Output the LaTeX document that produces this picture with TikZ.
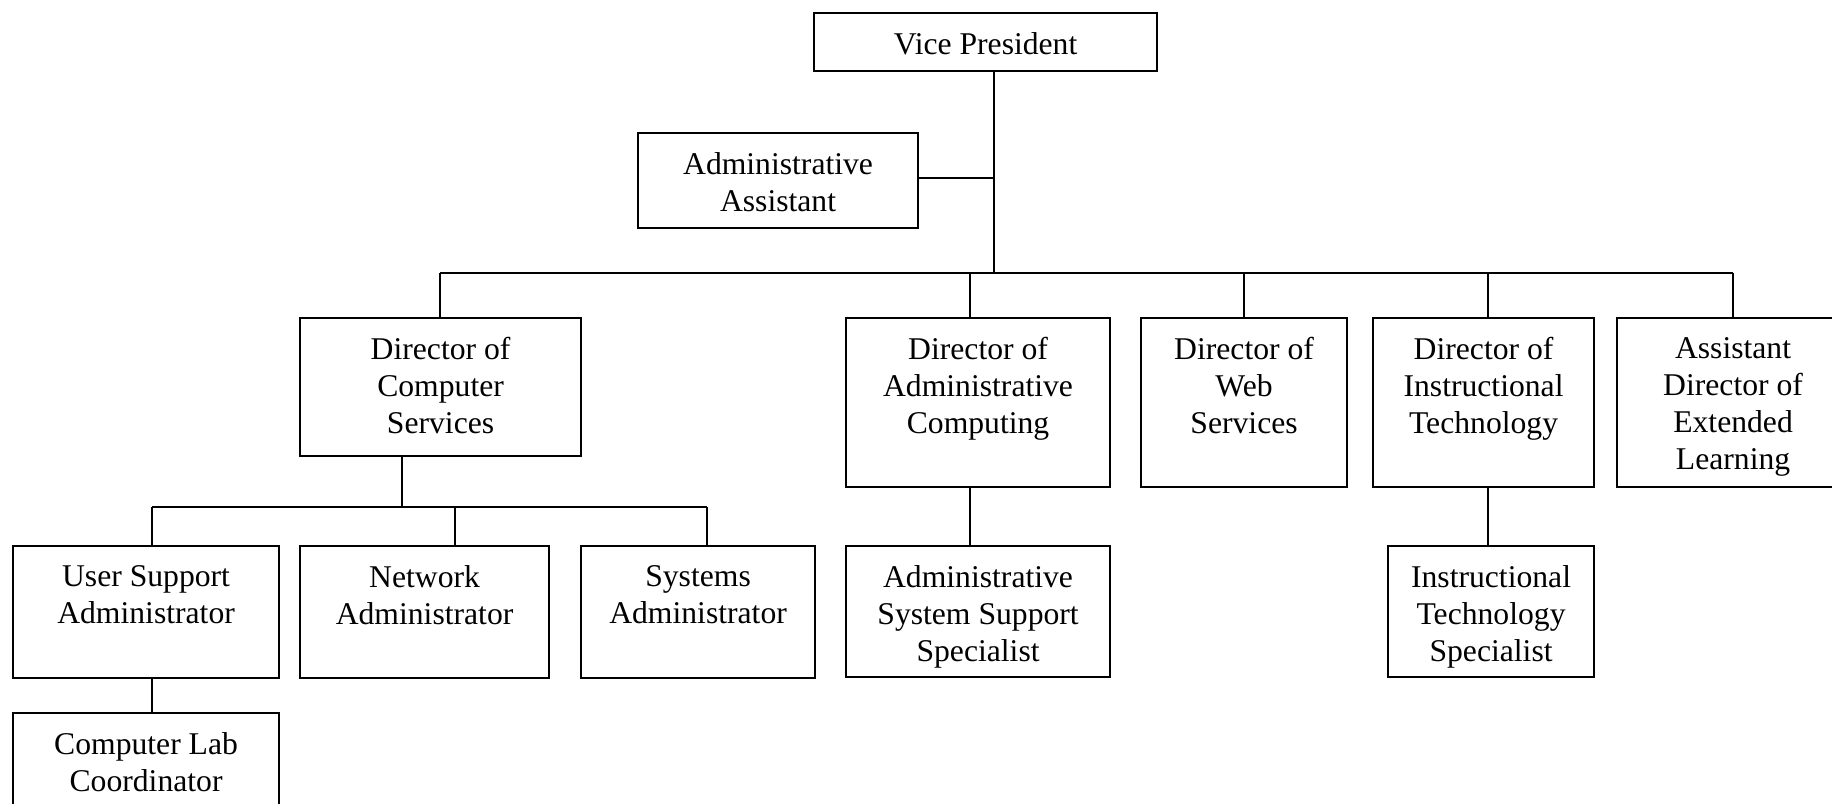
\documentclass[tikz,border=0pt]{standalone}
\usepackage{fontspec}
\setmainfont{Liberation Serif}
\begin{document}
\begin{tikzpicture}[x=0.01cm,y=-0.01cm,
  every node/.style={draw,line width=0.6pt,anchor=north west,inner sep=0pt,outer sep=0pt},
  lbl/.style={draw=none,anchor=north,yshift=-5.5pt,align=center,font=\fontsize{9pt}{10.5pt}\selectfont}]

  \clip (0,0) rectangle (1832,804);

  % Specification of nodes (position, size, text)
  \node[minimum width=3.43cm,minimum height=0.58cm,label={[lbl]north:Vice President}] (vp) at (814,13) {};
  \node[minimum width=2.80cm,minimum height=0.95cm,label={[lbl]north:{Administrative\\Assistant}}] (aa) at (638,133) {};

  \node[minimum width=2.81cm,minimum height=1.38cm,label={[lbl]north:{Director of\\Computer\\Services}}] (dcs) at (300,318) {};
  \node[minimum width=2.64cm,minimum height=1.69cm,label={[lbl]north:{Director of\\Administrative\\Computing}}] (dac) at (846,318) {};
  \node[minimum width=2.06cm,minimum height=1.69cm,label={[lbl]north:{Director of\\Web\\Services}}] (dws) at (1141,318) {};
  \node[minimum width=2.21cm,minimum height=1.69cm,label={[lbl]north:{Director of\\Instructional\\Technology}}] (dit) at (1373,318) {};
  \node[minimum width=2.32cm,minimum height=1.69cm,label={[lbl]north:{Assistant\\Director of\\Extended\\Learning}}] (adel) at (1617,318) {};

  \node[minimum width=2.66cm,minimum height=1.32cm,label={[lbl]north:{User Support\\Administrator}}] (usa) at (13,546) {};
  \node[minimum width=2.49cm,minimum height=1.32cm,label={[lbl]north:{Network\\Administrator}}] (na) at (300,546) {};
  \node[minimum width=2.34cm,minimum height=1.32cm,label={[lbl]north:{Systems\\Administrator}}] (sa) at (581,546) {};
  \node[minimum width=2.64cm,minimum height=1.31cm,label={[lbl]north:{Administrative\\System Support\\Specialist}}] (ass) at (846,546) {};
  \node[minimum width=2.06cm,minimum height=1.31cm,label={[lbl]north:{Instructional\\Technology\\Specialist}}] (its) at (1388,546) {};
  \node[minimum width=2.66cm,minimum height=1.32cm,label={[lbl]north:{Computer Lab\\Coordinator}}] (clc) at (13,713) {};

  % junctions on the buses
  \coordinate (a0) at (994,178);
  \coordinate (m0) at (994,273);
  \coordinate (m1) at (440,273);
  \coordinate (m2) at (970,273);
  \coordinate (m3) at (1244,273);
  \coordinate (m4) at (1488,273);
  \coordinate (m5) at (1733,273);
  \coordinate (s0) at (402,507);
  \coordinate (s1) at (152,507);
  \coordinate (s2) at (455,507);
  \coordinate (s3) at (707,507);

  \begin{scope}[line width=0.55pt]
    \draw (m0 |- vp.south) to (m0);
    \draw (a0 -| aa.east) to (a0);
    \draw (m1) to (m5);
    \foreach \m/\n in {m1/dcs,m2/dac,m3/dws,m4/dit,m5/adel}
      \draw (\m) to (\m |- \n.north);
    \draw (s0 |- dcs.south) to (s0);
    \draw (s1) to (s3);
    \foreach \m/\n in {s1/usa,s2/na,s3/sa}
      \draw (\m) to (\m |- \n.north);
    \draw (s1 |- usa.south) to (s1 |- clc.north);
    \draw (m2 |- dac.south) to (m2 |- ass.north);
    \draw (m4 |- dit.south) to (m4 |- its.north);
  \end{scope}

\end{tikzpicture}
\end{document}
